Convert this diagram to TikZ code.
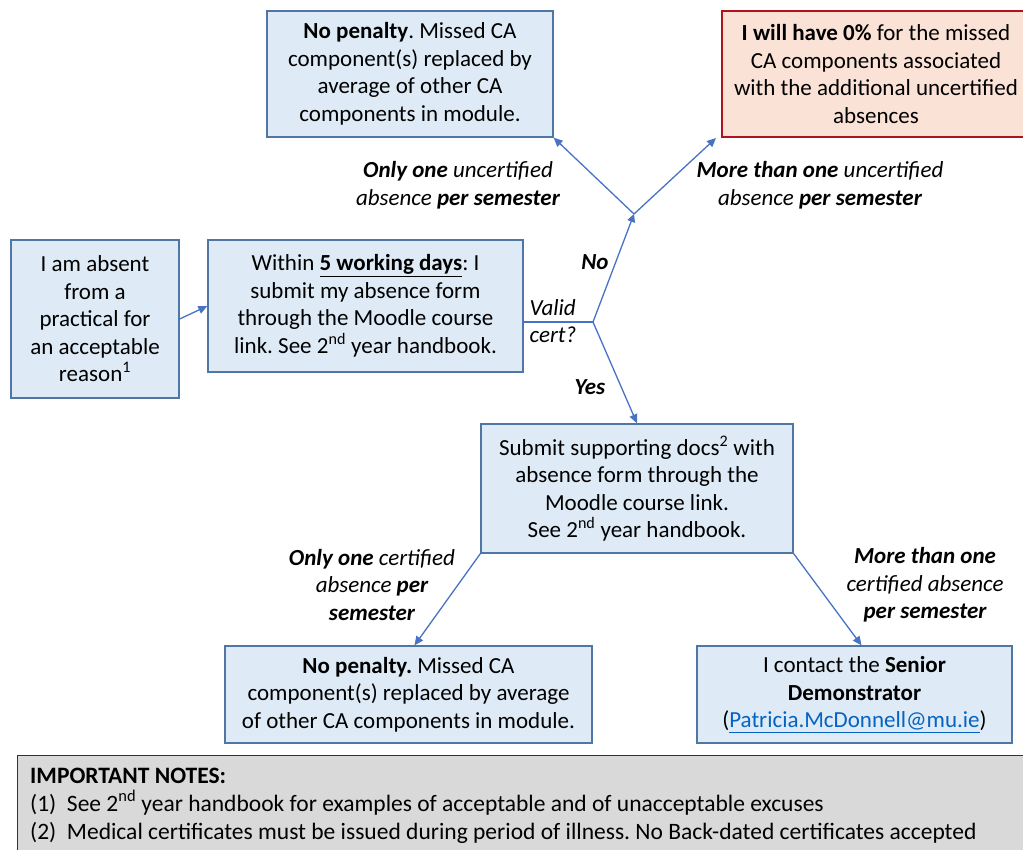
\documentclass[tikz,border=0pt]{standalone}
\usepackage{fontspec}
\setmainfont{Carlito}
\usetikzlibrary{arrows.meta}
\frenchspacing
\definecolor{boxfill}{RGB}{222,235,247}
\definecolor{boxdraw}{RGB}{80,118,165}
\definecolor{redfill}{RGB}{251,226,214}
\definecolor{reddraw}{RGB}{175,20,30}
\definecolor{arrowblue}{RGB}{72,114,196}
\definecolor{notefill}{RGB}{217,217,217}
\definecolor{notedraw}{RGB}{50,50,50}
\definecolor{linkblue}{RGB}{5,99,193}
\tikzset{
  flowbox/.style={draw=boxdraw, fill=boxfill, line width=1.3pt, align=center, inner sep=0pt,
    font=\fontsize{23}{27.5}\selectfont},
  redbox/.style={flowbox, draw=reddraw, fill=redfill, line width=2pt},
  arr/.style={draw=arrowblue, line width=1.3pt, -{Triangle[width=8pt,length=9pt]}},
  plain/.style={draw=arrowblue, line width=1.3pt},
  lbl/.style={align=center, font=\fontsize{23}{27.5}\selectfont\itshape, inner sep=0pt},
  noteline/.style={anchor=base west, inner sep=0pt, font=\fontsize{23.5}{28}\selectfont}
}
\begin{document}
\begin{tikzpicture}[x=1pt,y=-1pt]
\useasboundingbox (0,0) rectangle (1023,849);
% boxes
\node[flowbox, minimum width=168pt, minimum height=158pt] (A) at (95,319)
  {I am absent\\from a\\practical for\\an acceptable\\reason\textsuperscript{1}};
\node[flowbox, minimum width=315pt, minimum height=132pt] (B) at (365.5,306)
  {Within \textbf{\underline{5 working days}}: I\\submit my absence form\\through the Moodle course\\link. See 2\textsuperscript{nd} year handbook.};
\node[flowbox, minimum width=286pt, minimum height=126pt] (TL) at (410,74)
  {\textbf{No penalty}. Missed CA\\component(s) replaced by\\average of other CA\\components in module.};
\node[redbox, minimum width=308pt, minimum height=126pt] (TR) at (876,74)
  {\textbf{I will have 0\%} for the missed\\CA components associated\\with the additional uncertified\\absences};
\node[flowbox, minimum width=312pt, minimum height=129pt] (C) at (637,488.5)
  {Submit supporting docs\textsuperscript{2} with\\absence form through the\\Moodle course link.\\See 2\textsuperscript{nd} year handbook.};
\node[flowbox, minimum width=367pt, minimum height=97pt] (D) at (408.5,694.5)
  {\textbf{No penalty.} Missed CA\\component(s) replaced by average\\of other CA components in module.};
\node[flowbox, minimum width=315pt, minimum height=97pt] (E) at (854.5,694.5)
  {I contact the \textbf{Senior}\\\textbf{Demonstrator}\\(\textcolor{linkblue}{\underline{Patricia.McDonnell@mu.ie}})};
% notes
\node[draw=notedraw, fill=notefill, line width=1.3pt, minimum width=1013pt, minimum height=100pt,
  anchor=north west, inner sep=0pt] (N) at (17,755) {};
\node[noteline] (n0) at (30,783) {\textbf{IMPORTANT NOTES:}};
\node[noteline] (n1) at (30,811) {(1)\ \ See 2\textsuperscript{nd} year handbook for examples of acceptable and of unacceptable excuses};
\node[noteline] (n2) at (30,839) {(2)\ \ Medical certificates must be issued during period of illness. No Back-dated certificates accepted};
% connectors
\coordinate (split) at (593,322);
\coordinate (j) at (634,214);
\draw[arr] (A.east) -- (B.west);
\draw[plain] (B.east |- split) -- (split);
\draw[arr, -{Triangle[width=8pt,length=8pt]}] (split) -- (j);
\draw[arr] (j) -- (TL.south east);
\draw[arr] (j) -- ([xshift=-5pt]TR.south west);
\draw[arr] (split) -- (C.north);
\draw[arr] (C.south west) -- ([xshift=6pt]D.north);
\draw[arr] (C.south east) -- ([xshift=7pt]E.north);
% labels
\node[lbl] (l1) at (458,185) {\textbf{Only one} uncertified\\absence \textbf{per semester}};
\node[lbl] (l2) at (820,185) {\textbf{More than one} uncertified\\absence \textbf{per semester}};
\node[lbl] (lno) at (595,262) {\textbf{No}};
\node[lbl, align=left] (lvc) at (553,321) {Valid\\cert?};
\node[lbl] (lyes) at (590,387) {\textbf{Yes}};
\node[lbl] (l3) at (372,585) {\textbf{Only one} certified\\absence \textbf{per}\\\textbf{semester}};
\node[lbl] (l4) at (925,585) {\textbf{More than one}\\certified absence\\\textbf{per semester}};
\end{tikzpicture}
\end{document}
